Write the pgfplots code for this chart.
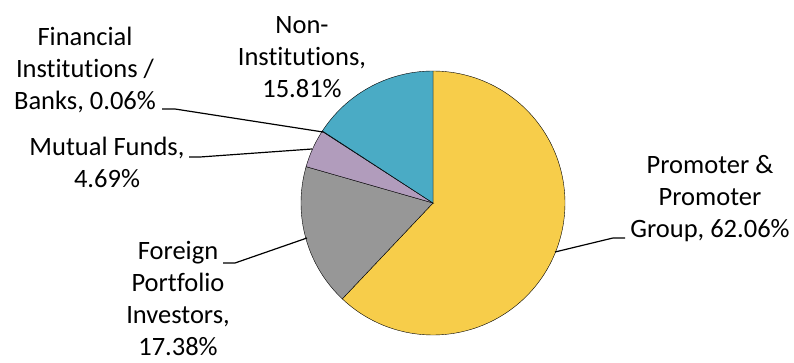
\documentclass[border=0pt]{standalone}
\usepackage{pgfplots}
\pgfplotsset{compat=1.18}
\usepackage{fontspec}
\setmainfont{Carlito}[RawFeature={-liga;-clig;-calt}]
\definecolor{cProm}{HTML}{F7CD4A}
\definecolor{cFor}{HTML}{979797}
\definecolor{cMut}{HTML}{B19CBC}
\definecolor{cFin}{HTML}{5B7DB8}
\definecolor{cNon}{HTML}{4AABC5}
% shares in percent
\def\vProm{62.06}
\def\vFor{17.38}
\def\vMut{4.69}
\def\vFin{0.06}
\def\vNon{15.81}
\pgfmathsetmacro\aA{90}
\pgfmathsetmacro\aB{\aA-3.6*\vProm}
\pgfmathsetmacro\aC{\aB-3.6*\vFor}
\pgfmathsetmacro\aD{\aC-3.6*\vMut}
\pgfmathsetmacro\aE{\aD-3.6*\vFin}
\pgfmathsetmacro\aF{\aE-3.6*\vNon}
\begin{document}
\begin{tikzpicture}
\path[use as bounding box] (0,0) rectangle (794bp,363bp);
\begin{axis}[
  at={(433bp,160bp)}, anchor=center,
  scale only axis, width=264bp, height=264bp,
  xmin=-1, xmax=1, ymin=-1, ymax=1,
  hide axis, clip=false,
]
\addplot[fill=cProm, draw=black, line width=0.4pt, domain=\aB:\aA, samples=120, variable=\t] ({cos(\t)},{sin(\t)}) -- (axis cs:0,0) -- cycle;
\addplot[fill=cFor, draw=black, line width=0.4pt, domain=\aC:\aB, samples=40, variable=\t] ({cos(\t)},{sin(\t)}) -- (axis cs:0,0) -- cycle;
\addplot[fill=cMut, draw=black, line width=0.4pt, domain=\aD:\aC, samples=15, variable=\t] ({cos(\t)},{sin(\t)}) -- (axis cs:0,0) -- cycle;
\addplot[fill=cFin, draw=black, line width=0.4pt, domain=\aE:\aD, samples=2, variable=\t] ({cos(\t)},{sin(\t)}) -- (axis cs:0,0) -- cycle;
\addplot[fill=cNon, draw=black, line width=0.4pt, domain=\aF:\aE, samples=40, variable=\t] ({cos(\t)},{sin(\t)}) -- (axis cs:0,0) -- cycle;
\end{axis}
\begin{scope}[x=1bp, y=-1bp, yshift=363bp]
% leader lines
\draw[line width=1.2pt] (162,109) -- (175,109) -- (323,132);
\draw[line width=1.2pt] (189,157) -- (200,157) -- (312,149);
\draw[line width=1.2pt] (223,263) -- (235,263) -- (307,238);
\draw[line width=1.2pt] (625,238) -- (613,238) -- (555,252);
% labels (anchor = baseline of last line)
\tikzset{lbl/.style={align=center, anchor=base, inner sep=0pt, font=\fontsize{26.5bp}{32.3bp}\selectfont}}
\node[lbl] at (302,98) {Non-\\Institutions,\\15.81\%};
\node[lbl] at (85,110) {Financial\\Institutions /\\Banks, 0.06\%};
\node[lbl] at (107,188) {Mutual Funds,\\4.69\%};
\node[lbl] at (178,356) {Foreign\\Portfolio\\Investors,\\17.38\%};
\node[lbl] at (710,238) {Promoter \&\\Promoter\\Group, 62.06\%};
\end{scope}
\end{tikzpicture}
\end{document}
